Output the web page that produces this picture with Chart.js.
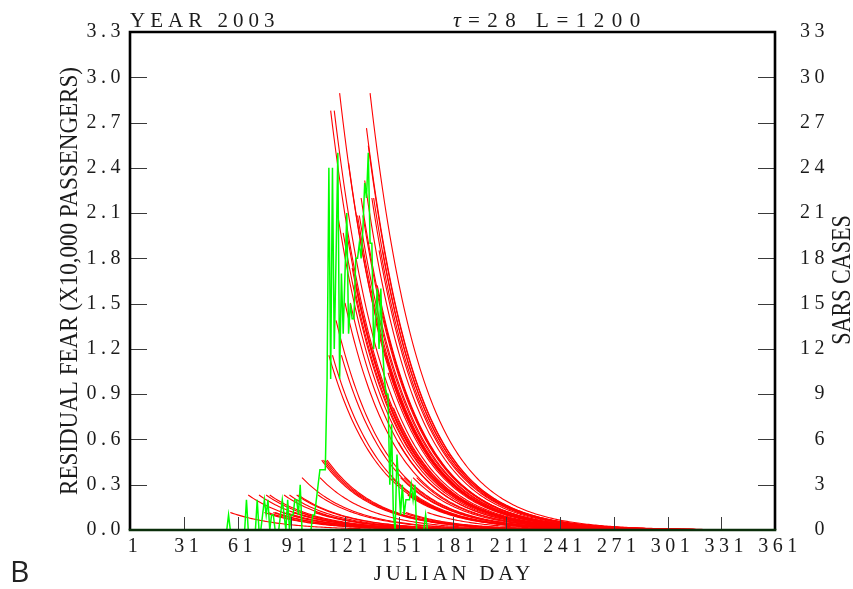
<!DOCTYPE html>
<html>
<head>
<meta charset="utf-8">
<script src="https://cdn.jsdelivr.net/npm/chart.js@4.4.1/dist/chart.umd.min.js"></script>
<style>
  html, body { margin: 0; padding: 0; background: #fff; }
  #wrap { position: relative; width: 853px; height: 589px; }
</style>
</head>
<body>
<div id="wrap"><canvas id="c"></canvas></div>
<script>
/* SARS 2003 panel B: daily SARS cases (green, right axis) and the residual-fear
   decay curve each day's cases leave behind (red, left axis). */

// ---- values
const TAU = 28;          // decay time in days (heading)
const L_PASS = 1200;     // passengers per case (heading)
const FIRST_DAY = 50;    // Julian day of sarsCases[0]
const sarsCases = [
  0, 0, 0, 0, 0, 0, 1, 0, 0, 0,        // 50-59
  0, 0, 0, 0, 0, 0, 2, 0, 0, 0,        // 60-69
  0, 0, 2, 0, 0, 1, 2, 1, 2, 0,        // 70-79
  1, 1, 0, 0, 0, 1, 2, 1, 0, 2,        // 80-89
  0, 1, 1, 2, 2, 1, 3, 0, 0, 0,        // 90-99
  0, 0, 0, 1, 1, 2, 3, 4, 4, 4,        // 100-109
  4, 10, 24, 10, 24, 12, 18, 25, 10, 17, // 110-119
  13, 17, 21, 13, 15, 14, 14, 18, 18, 19, // 120-129
  18, 20, 23, 22, 25, 19, 19, 12, 14, 16, // 130-139
  12, 16, 12, 10, 9, 9, 3, 7, 1, 0,     // 140-149
  5, 3, 1, 3, 1, 2, 2, 2, 3, 2,         // 150-159
  3, 0, 0, 0, 0, 0, 1, 0, 0, 0, 0       // 160-170
];
const LAST_DAY = 361;
const xTicks = [1, 31, 61, 91, 121, 151, 181, 211, 241, 271, 301, 331, 361];
const fearTicks = [0, 0.3, 0.6, 0.9, 1.2, 1.5, 1.8, 2.1, 2.4, 2.7, 3.0, 3.3];
const caseTicks = [0, 3, 6, 9, 12, 15, 18, 21, 24, 27, 30, 33];

const INK = "#1b1b1b";
const SERIF = "'Liberation Serif', 'DejaVu Serif', serif";

// green: cases per day
const caseData = sarsCases.map((c, i) => ({ x: FIRST_DAY + i, y: c }));

// red: each day with cases starts a curve the next day, decaying with TAU
const fearSets = [];
sarsCases.forEach((c, i) => {
  if (!c) return;
  const d = FIRST_DAY + i, amp = c * L_PASS / 10000, pts = [];
  for (let t = d + 1; t <= LAST_DAY; t++) pts.push({ x: t, y: amp * Math.exp(-(t - d) / TAU) });
  fearSets.push({
    type: "line", data: pts, yAxisID: "y", order: 2,
    borderColor: "#ff0000", borderWidth: 1.1, pointRadius: 0, tension: 0, fill: false,
  });
});

function txt(ctx, s, x, y, o) {
  ctx.save();
  ctx.translate(x, y);
  if (o.rot) ctx.rotate(o.rot);
  if (o.sx) ctx.scale(o.sx, 1);
  ctx.font = o.font;
  ctx.letterSpacing = (o.ls || 0) + "px";
  ctx.fillStyle = o.color || INK;
  ctx.textAlign = o.align || "left";
  ctx.textBaseline = "alphabetic";
  ctx.fillText(s, 0, 0);
  ctx.restore();
}

const decor = {
  id: "decor",
  beforeDraw(chart) { chart.ctx.letterSpacing = "4.5px"; },
  afterDatasetsDraw(chart) {
    const { ctx, chartArea: a, scales } = chart;
    ctx.save();
    ctx.letterSpacing = "0px";
    ctx.strokeStyle = "#3a3a3a"; ctx.lineWidth = 1;
    ctx.beginPath();
    xTicks.forEach(v => { const px = Math.round(scales.x.getPixelForValue(v)) + 0.5; ctx.moveTo(px, a.bottom); ctx.lineTo(px, a.bottom - 13); });
    fearTicks.forEach(v => { const py = Math.round(scales.y.getPixelForValue(v)) + 0.5; ctx.moveTo(a.left, py); ctx.lineTo(a.left + 17, py); });
    caseTicks.forEach(v => { const py = Math.round(scales.y1.getPixelForValue(v)) + 0.5; ctx.moveTo(a.right, py); ctx.lineTo(a.right - 17, py); });
    ctx.stroke();
    ctx.lineWidth = 2.6; ctx.strokeStyle = "#000";
    ctx.beginPath();
    ctx.moveTo(a.left, a.bottom); ctx.lineTo(a.left, a.top); ctx.lineTo(a.right, a.top); ctx.lineTo(a.right, a.bottom);
    ctx.stroke();
    ctx.strokeStyle = "#0a2e0a";
    ctx.beginPath(); ctx.moveTo(a.left - 1.3, a.bottom); ctx.lineTo(a.right + 1.3, a.bottom); ctx.stroke();
    ctx.restore();
  },
  afterDraw(chart) {
    const ctx = chart.ctx;
    txt(ctx, "YEAR 2003", 130, 27, { font: `21px ${SERIF}`, ls: 5 });
    txt(ctx, "\u03c4", 453, 27, { font: `italic 22px ${SERIF}` });
    txt(ctx, "=28 L=1200", 468, 27, { font: `21px ${SERIF}`, ls: 7.5 });
    txt(ctx, "JULIAN DAY", 454, 580, { font: `21px ${SERIF}`, ls: 3.8, align: "center" });
    txt(ctx, "RESIDUAL FEAR (X10,000 PASSENGERS)", 76.5, 281, { font: `26px ${SERIF}`, rot: -Math.PI / 2, sx: 0.886, align: "center" });
    txt(ctx, "SARS CASES", 850, 280, { font: `28px ${SERIF}`, rot: -Math.PI / 2, sx: 0.79, align: "center" });
    txt(ctx, "B", 10, 582, { font: "30px 'Open Sans', 'Noto Sans', sans-serif", color: "#222" });
    ctx.letterSpacing = "0px";
  },
};

const tickFont = { family: SERIF, size: 20 };
const noPad = s => { s.paddingTop = 0; s.paddingBottom = 0; s.paddingLeft = 0; s.paddingRight = 0; };
new Chart(document.getElementById("c"), {
  type: "line",
  data: {
    datasets: [
      { type: "line", data: caseData, yAxisID: "y1", order: 1,
        borderColor: "#00ff00", borderWidth: 1.5, pointRadius: 0, tension: 0, fill: false },
      ...fearSets,
    ],
  },
  options: {
    responsive: true, maintainAspectRatio: false, animation: false,
    parsing: false, normalized: true,
    layout: { padding: { top: 32, left: 0, right: 24, bottom: 0 } },
    plugins: { legend: { display: false }, tooltip: { enabled: false }, title: { display: false } },
    events: [],
    scales: {
      x: {
        type: "linear", min: 1, max: LAST_DAY,
        afterBuildTicks: s => { s.ticks = xTicks.map(v => ({ value: v })); },
        afterFit: s => { s.height = 59; noPad(s); },
        grid: { display: false, drawTicks: false }, border: { display: false },
        ticks: { font: tickFont, color: INK, padding: 5, labelOffset: 5, maxRotation: 0, autoSkip: false },
      },
      y: {
        position: "left", min: 0, max: 3.3,
        afterBuildTicks: s => { s.ticks = fearTicks.map(v => ({ value: v })); },
        afterFit: s => { s.width = 130; noPad(s); },
        grid: { display: false, drawTicks: false }, border: { display: false },
        ticks: { font: tickFont, color: INK, padding: 5, callback: v => v.toFixed(1) },
      },
      y1: {
        position: "right", min: 0, max: 33,
        afterBuildTicks: s => { s.ticks = caseTicks.map(v => ({ value: v })); },
        afterFit: s => { s.width = 54; noPad(s); },
        grid: { display: false, drawTicks: false }, border: { display: false },
        ticks: { font: tickFont, color: INK, padding: 11, crossAlign: "far", callback: v => String(v) },
      },
    },
  },
  plugins: [decor],
});
</script>
</body>
</html>
